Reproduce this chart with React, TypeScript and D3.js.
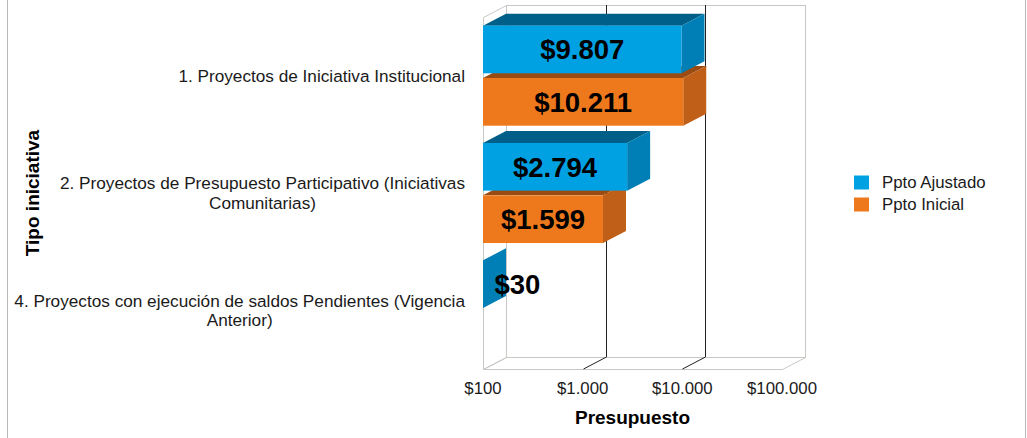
import { useEffect, useRef } from "react";
import * as d3 from "d3";

const categories = [
  "1. Proyectos de Iniciativa Institucional",
  "2. Proyectos de Presupuesto Participativo (Iniciativas Comunitarias)",
  "4. Proyectos con ejecución de saldos Pendientes (Vigencia Anterior)",
];
const seriesNames = ["Ppto Ajustado", "Ppto Inicial"];
const pptoAjustado = [9807, 2794, 30];
const pptoInicial = [10211, 1599, null];
const xTicks = [100, 1000, 10000, 100000];

const W = 1027;
const H = 438;
const FONT = "'Liberation Sans', Arial, sans-serif";

const palette: Record<string, { front: string; top: string; side: string }> = {
  "Ppto Ajustado": { front: "#00a1e3", top: "#005f88", side: "#007fb6" },
  "Ppto Inicial": { front: "#ee781c", top: "#9a4b12", side: "#c05f17" },
};

// es-CO style money: $10.211
const money = d3.formatLocale({
  decimal: ",",
  thousands: ".",
  grouping: [3],
  currency: ["$", ""],
}).format("$,d");

export default function App() {
  const ref = useRef<SVGSVGElement>(null);

  useEffect(() => {
    const svg = d3.select(ref.current);
    svg.selectAll("*").remove();

    // 3d depth offset of the plot box
    const dx = 23;
    const dy = 12;

    const x = d3.scaleLog().domain([100, 100000]).range([483, 782]).clamp(true);
    const y = d3.scaleBand().domain(categories).range([17, 369]);
    const ys = d3
      .scaleBand()
      .domain(seriesNames)
      .range([0, y.bandwidth()])
      .paddingInner(0.09)
      .paddingOuter(0.165);

    const [x0, x1] = x.range();
    const [y0, y1] = y.range();
    const wallColor = "#c8c8c4";

    svg
      .append("rect")
      .attr("x", 7.5)
      .attr("y", -5)
      .attr("width", 1018)
      .attr("height", H + 10)
      .attr("fill", "#fff")
      .attr("stroke", "#b8b8b4");

    // back wall, side wall, floor
    const walls = svg.append("g").attr("fill", "none").attr("stroke", wallColor);
    walls
      .append("rect")
      .attr("x", x0 + dx + 0.5)
      .attr("y", y0 - dy + 0.5)
      .attr("width", x1 - x0)
      .attr("height", y1 - y0);
    walls
      .append("polygon")
      .attr("points", [[x0, y0], [x0 + dx, y0 - dy], [x0 + dx, y1 - dy], [x0, y1]].map((p) => p.map((v) => v + 0.5).join(",")).join(" "));
    walls
      .append("polygon")
      .attr("points", [[x0, y1], [x1, y1], [x1 + dx, y1 - dy], [x0 + dx, y1 - dy]].map((p) => p.map((v) => v + 0.5).join(",")).join(" "));

    const grid = svg.append("g").attr("stroke", "#222").attr("stroke-width", 1);
    xTicks.slice(1, -1).forEach((t) => {
      const gx = Math.round(x(t)) + 0.5;
      grid.append("line").attr("x1", gx + dx).attr("x2", gx + dx).attr("y1", y0 - dy).attr("y2", y1 - dy);
      grid.append("line").attr("x1", gx + dx).attr("x2", gx).attr("y1", y1 - dy).attr("y2", y1);
    });

    // bars
    type Bar = { cat: string; series: string; value: number };
    const bars: Bar[] = [];
    categories.forEach((c, i) => {
      const vals = [pptoAjustado[i], pptoInicial[i]];
      seriesNames.forEach((s, j) => {
        if (vals[j] != null) bars.push({ cat: c, series: s, value: vals[j] as number });
      });
    });
    const top = (b: Bar) => (y(b.cat) as number) + (ys(b.series) as number);
    const h = ys.bandwidth();
    const drawOrder = bars.slice().sort((a, b) => top(b) - top(a));

    const gBars = svg.append("g");
    drawOrder.forEach((b) => {
      const bx0 = x0;
      const bx1 = x(b.value);
      const by = top(b);
      const col = palette[b.series];
      const g = gBars.append("g");
      g.append("polygon")
        .attr("points", [[bx0, by], [bx0 + dx, by - dy], [bx1 + dx, by - dy], [bx1, by]].map((p) => p.join(",")).join(" "))
        .attr("fill", col.top);
      g.append("polygon")
        .attr("points", [[bx1, by], [bx1 + dx, by - dy], [bx1 + dx, by + h - dy], [bx1, by + h]].map((p) => p.join(",")).join(" "))
        .attr("fill", col.side);
      g.append("rect")
        .attr("x", bx0)
        .attr("y", by)
        .attr("width", bx1 - bx0)
        .attr("height", h)
        .attr("fill", col.front);
    });

    // data labels
    const labelSize = 27.5;
    bars.forEach((b) => {
      const bx1 = x(b.value);
      const by = top(b);
      const t = svg
        .append("text")
        .attr("font-family", FONT)
        .attr("font-weight", "bold")
        .attr("font-size", labelSize)
        .attr("fill", "#000")
        .attr("y", by + h / 2 + labelSize * 0.358)
        .text(money(b.value));
      const tw = (t.node() as SVGTextElement).getComputedTextLength();
      if (bx1 - x0 < tw) {
        t.attr("x", x0 + dx / 2).attr("text-anchor", "start");
      } else {
        t.attr("x", (x0 + bx1) / 2).attr("text-anchor", "middle");
      }
    });

    // category labels, wrapped and centred per line, block right-aligned
    const catSize = 17.2;
    const lineH = 19.8;
    const rightEdge = 465;
    const maxW = 465;
    const measure = svg.append("text").attr("font-family", FONT).attr("font-size", catSize);
    const width = (s: string) => {
      measure.text(s);
      return (measure.node() as SVGTextElement).getComputedTextLength();
    };
    categories.forEach((c) => {
      const words = c.split(" ");
      const lines: string[] = [];
      let cur = "";
      words.forEach((w) => {
        const next = cur ? cur + " " + w : w;
        if (cur && width(next) > maxW) {
          lines.push(cur);
          cur = w;
        } else cur = next;
      });
      lines.push(cur);
      const widest = d3.max(lines, width) as number;
      const cx = rightEdge - widest / 2;
      const cy = (y(c) as number) + y.bandwidth() / 2;
      const t = svg
        .append("text")
        .attr("font-family", FONT)
        .attr("font-size", catSize)
        .attr("fill", "#1a1a1a")
        .attr("text-anchor", "middle");
      lines.forEach((ln, i) => {
        t.append("tspan")
          .attr("x", cx)
          .attr("y", cy + catSize * 0.358 + (i - (lines.length - 1) / 2) * lineH)
          .text(ln);
      });
    });
    measure.remove();

    // x tick labels
    svg
      .append("g")
      .selectAll("text")
      .data(xTicks)
      .join("text")
      .attr("x", (d) => x(d))
      .attr("y", 394)
      .attr("text-anchor", "middle")
      .attr("font-family", FONT)
      .attr("font-size", 16.8)
      .attr("fill", "#1a1a1a")
      .text((d) => money(d));

    // axis titles
    svg
      .append("text")
      .attr("x", (x0 + x1) / 2)
      .attr("y", 424)
      .attr("text-anchor", "middle")
      .attr("font-family", FONT)
      .attr("font-weight", "bold")
      .attr("font-size", 19)
      .attr("fill", "#000")
      .text("Presupuesto");
    svg
      .append("text")
      .attr("transform", `translate(39,${(y0 + y1) / 2}) rotate(-90)`)
      .attr("text-anchor", "middle")
      .attr("font-family", FONT)
      .attr("font-weight", "bold")
      .attr("font-size", 19)
      .attr("fill", "#000")
      .text("Tipo iniciativa");

    // legend
    const legend = svg
      .append("g")
      .selectAll("g")
      .data(seriesNames)
      .join("g")
      .attr("transform", (_, i) => `translate(854,${175.5 + i * 22})`);
    legend
      .append("rect")
      .attr("width", 15)
      .attr("height", 14)
      .attr("fill", (d) => palette[d].front);
    legend
      .append("text")
      .attr("x", 28)
      .attr("y", 12.5)
      .attr("font-family", FONT)
      .attr("font-size", 16.8)
      .attr("fill", "#1a1a1a")
      .text((d) => d);
  }, []);

  return (
    <svg
      ref={ref}
      width={W}
      height={H}
      style={{ position: "absolute", left: 0, top: 0, background: "#fff" }}
    />
  );
}
